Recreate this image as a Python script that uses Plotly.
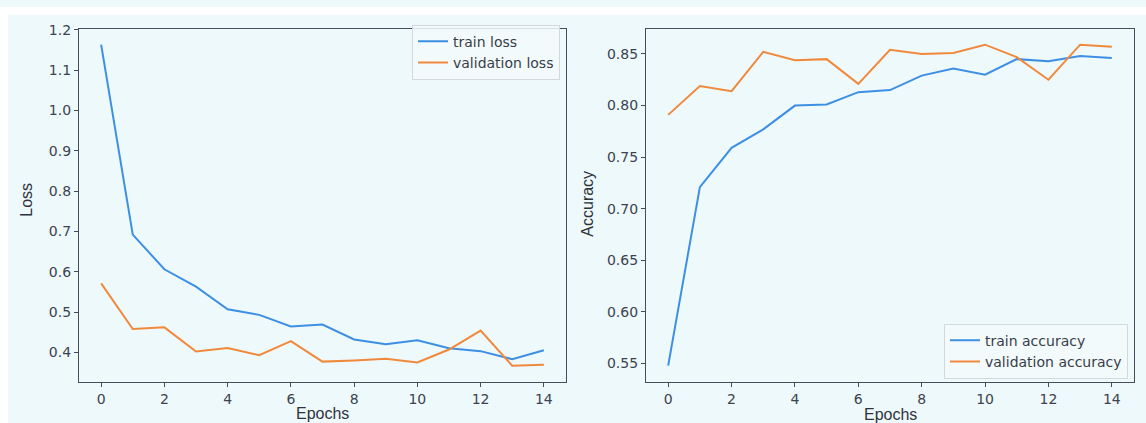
import plotly.graph_objects as go

# Training history over 15 epochs
epochs = list(range(15))

train_loss = [1.163, 0.692, 0.606, 0.563, 0.507, 0.493, 0.464, 0.469,
              0.432, 0.420, 0.430, 0.410, 0.403, 0.383, 0.405]
val_loss = [0.571, 0.458, 0.462, 0.402, 0.411, 0.393, 0.428, 0.377,
            0.380, 0.384, 0.375, 0.407, 0.454, 0.367, 0.369]

train_acc = [0.548, 0.721, 0.759, 0.777, 0.800, 0.801, 0.813, 0.815,
             0.829, 0.836, 0.830, 0.845, 0.843, 0.848, 0.846]
val_acc = [0.791, 0.819, 0.814, 0.852, 0.844, 0.845, 0.821, 0.854,
           0.850, 0.851, 0.859, 0.847, 0.825, 0.859, 0.857]

loss_ticks = [0.4, 0.5, 0.6, 0.7, 0.8, 0.9, 1.0, 1.1, 1.2]
acc_ticks = [0.55, 0.60, 0.65, 0.70, 0.75, 0.80, 0.85]
epoch_ticks = [0, 2, 4, 6, 8, 10, 12, 14]

W, H = 1146, 423
BG = "#eef9fc"
BLUE = "#3d8fe3"
ORANGE = "#f0893c"
FRAME = "#454c5a"
TICKTXT = "#3d424e"


def padded(*series, frac=0.05):
    lo = min(min(s) for s in series)
    hi = max(max(s) for s in series)
    span = hi - lo
    return [lo - frac * span, hi + frac * span]


def px_x(v):
    return v / W


def px_y(v):
    return 1 - v / H


fig = go.Figure()

line_kw = dict(mode="lines", hoverinfo="skip")
fig.add_trace(go.Scatter(x=epochs, y=train_loss, name="train loss",
                         line=dict(color=BLUE, width=2), xaxis="x", yaxis="y",
                         legend="legend", **line_kw))
fig.add_trace(go.Scatter(x=epochs, y=val_loss, name="validation loss",
                         line=dict(color=ORANGE, width=2), xaxis="x", yaxis="y",
                         legend="legend", **line_kw))
fig.add_trace(go.Scatter(x=epochs, y=train_acc, name="train accuracy",
                         line=dict(color=BLUE, width=2), xaxis="x2", yaxis="y2",
                         legend="legend2", **line_kw))
fig.add_trace(go.Scatter(x=epochs, y=val_acc, name="validation accuracy",
                         line=dict(color=ORANGE, width=2), xaxis="x2", yaxis="y2",
                         legend="legend2", **line_kw))

axis_common = dict(
    showgrid=False, zeroline=False, showline=True, mirror=True,
    linecolor=FRAME, linewidth=1.3, ticks="outside", ticklen=4,
    tickcolor=FRAME, tickwidth=1.2,
    tickfont=dict(family="DejaVu Sans", size=14, color=TICKTXT),
)

y_dom = [px_y(381), px_y(22)]
legend_font = dict(family="DejaVu Sans", size=14, color="#383d48")

fig.update_layout(
    width=W, height=H,
    margin=dict(l=0, r=0, t=0, b=0),
    paper_bgcolor=BG, plot_bgcolor=BG,
    xaxis=dict(domain=[px_x(79), px_x(566)], range=[-0.7, 14.7],
               tickvals=epoch_ticks, anchor="y", **axis_common),
    yaxis=dict(domain=y_dom, range=padded(train_loss, val_loss),
               tickvals=loss_ticks, tickformat=".1f", anchor="x",
               **axis_common),
    xaxis2=dict(domain=[px_x(646), px_x(1134)], range=[-0.7, 14.7],
                tickvals=epoch_ticks, anchor="y2", **axis_common),
    yaxis2=dict(domain=y_dom, range=padded(train_acc, val_acc),
                tickvals=acc_ticks, tickformat=".2f", anchor="x2",
                **axis_common),
    legend=dict(x=px_x(412), y=px_y(18), xanchor="left", yanchor="top",
                bgcolor="rgba(242,250,252,0.85)", bordercolor="#d3d8de",
                borderwidth=1, tracegroupgap=0, font=legend_font),
    legend2=dict(x=px_x(944), y=px_y(378), xanchor="left", yanchor="bottom",
                 bgcolor="rgba(242,250,252,0.85)", bordercolor="#d3d8de",
                 borderwidth=1, tracegroupgap=0, font=legend_font),
    shapes=[
        dict(type="rect", xref="paper", yref="paper", x0=0, x1=1,
             y0=px_y(8), y1=1, fillcolor="white", line=dict(width=0),
             layer="below"),
        dict(type="rect", xref="paper", yref="paper", x0=0, x1=px_x(8),
             y0=0, y1=1, fillcolor="white", line=dict(width=0),
             layer="below"),
    ],
)

title_font = dict(family="Liberation Sans", size=16, color="#2f333c")
annotations = [
    dict(text="Loss", x=px_x(27), y=px_y(196), textangle=-90),
    dict(text="Epochs", x=px_x(322), y=px_y(413)),
    dict(text="Accuracy", x=px_x(588), y=px_y(200), textangle=-90),
    dict(text="Epochs", x=px_x(890), y=px_y(414)),
]
for a in annotations:
    fig.add_annotation(xref="paper", yref="paper", showarrow=False,
                       xanchor="center", yanchor="middle", font=title_font, **a)

fig.write_html("out.html")
